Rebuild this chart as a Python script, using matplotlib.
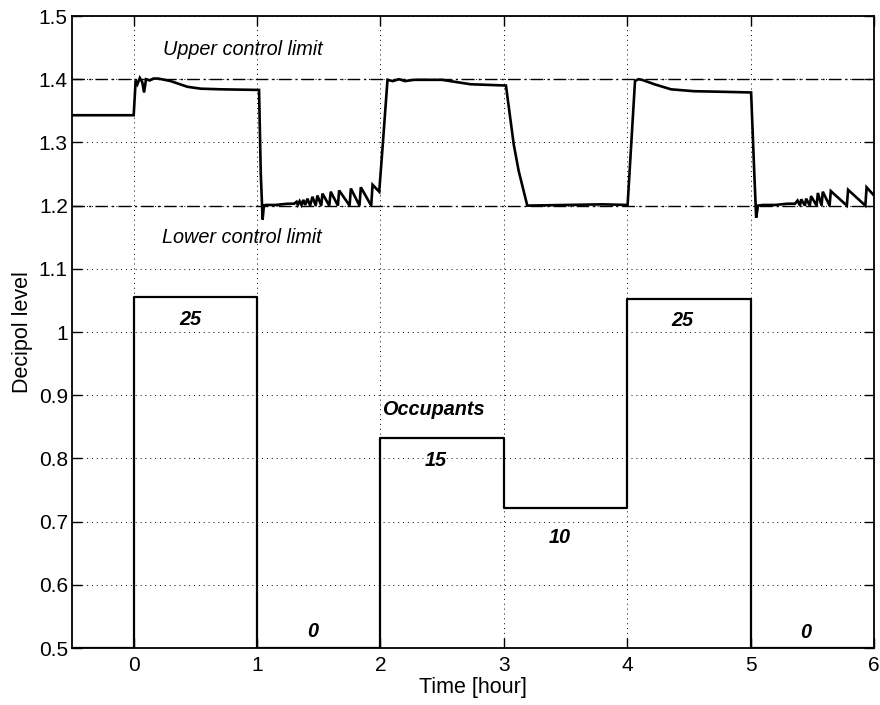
import matplotlib
matplotlib.use("Agg")
import matplotlib.pyplot as plt

plt.rcParams['font.family'] = ['Liberation Sans', 'DejaVu Sans']

# ========== Data ==========
# simulated decipol level (hour, decipol)
decipol_t = [-0.5, 0.0, 0.016, 0.03, 0.05, 0.07, 0.084, 0.10, 0.13, 0.16, 0.20,
             0.30, 0.435, 0.543, 0.706, 1.016,
             1.03, 1.045, 1.055, 1.07, 1.15, 1.25, 1.30,
             1.32, 1.33, 1.345, 1.36, 1.375, 1.39,
             1.408, 1.43, 1.449, 1.475, 1.489, 1.52, 1.530, 1.585, 1.597, 1.655,
             1.665, 1.75, 1.760, 1.83, 1.841, 1.925, 1.936, 1.99,
             2.02, 2.057, 2.10, 2.15, 2.20, 2.27, 2.50, 2.73, 3.017,
             3.08, 3.12, 3.19, 3.50, 3.80, 4.003,
             4.063, 4.09, 4.12, 4.22, 4.355, 4.54, 4.79, 5.004,
             5.03, 5.045, 5.06, 5.10, 5.20, 5.30, 5.36,
             5.38, 5.40, 5.41, 5.44, 5.45, 5.48, 5.49, 5.535, 5.545, 5.575,
             5.585, 5.64, 5.65, 5.78, 5.79, 5.93, 5.94, 6.0]
decipol_v = [1.343, 1.343, 1.398, 1.392, 1.402, 1.395, 1.379, 1.400, 1.398, 1.401, 1.401,
             1.397, 1.388, 1.385, 1.384, 1.383,
             1.25, 1.178, 1.200, 1.201, 1.201, 1.203, 1.203,
             1.206, 1.201, 1.207, 1.201, 1.209, 1.201,
             1.211, 1.200, 1.214, 1.200, 1.216, 1.200, 1.219, 1.200, 1.222, 1.200,
             1.224, 1.200, 1.227, 1.200, 1.229, 1.200, 1.233, 1.222,
             1.30, 1.399, 1.397, 1.400, 1.397, 1.399, 1.399, 1.392, 1.390,
             1.297, 1.255, 1.200, 1.201, 1.202, 1.201,
             1.397, 1.400, 1.399, 1.392, 1.384, 1.381, 1.380, 1.379,
             1.25, 1.181, 1.200, 1.201, 1.201, 1.203, 1.203,
             1.208, 1.200, 1.210, 1.200, 1.211, 1.200, 1.215, 1.200, 1.220, 1.200,
             1.222, 1.200, 1.223, 1.200, 1.225, 1.200, 1.229, 1.216]

# occupancy schedule, drawn as steps
occ_edges = [-0.5, 0, 1, 2, 3, 4, 5, 6]
occ_levels = [0.5, 1.055, 0.5, 0.832, 0.721, 1.053, 0.5]
occ_counts = [0, 25, 0, 15, 10, 25, 0]

upper_limit = 1.4
lower_limit = 1.2

x_ticks = [0, 1, 2, 3, 4, 5, 6]
y_ticks = [0.5, 0.6, 0.7, 0.8, 0.9, 1.0, 1.1, 1.2, 1.3, 1.4, 1.5]
y_tick_labels = ["0.5", "0.6", "0.7", "0.8", "0.9", "1", "1.1", "1.2", "1.3", "1.4", "1.5"]

# ========== Plot ==========
fig = plt.figure(figsize=(8.8, 7.05), dpi=100)
ax = fig.add_axes([72 / 880, 1 - 648 / 705, 802 / 880, 632 / 705])

ax.axhline(upper_limit, color="black", lw=1.0, dashes=(9, 3, 1.5, 3))
ax.axhline(lower_limit, color="black", lw=1.0, dashes=(9, 3, 1.5, 3))

ax.plot(decipol_t, decipol_v, color="black", lw=1.9, solid_joinstyle="miter")
ax.step(occ_edges, occ_levels + [occ_levels[-1]], where="post", color="black", lw=1.6)

ax.set_xlim(-0.5, 6)
ax.set_ylim(0.5, 1.5)
ax.set_xticks(x_ticks)
ax.set_yticks(y_ticks)
ax.set_yticklabels(y_tick_labels)
ax.grid(True, color="black", linestyle=(0, (1, 4)), linewidth=0.7)
ax.tick_params(direction="in", length=7, width=1, top=True, right=True, labelsize=15)
ax.tick_params(axis="x", pad=6)
ax.tick_params(axis="y", pad=3)
for s in ax.spines.values():
    s.set_linewidth(1.3)

ax.set_xlabel("Time [hour]", fontsize=15.5, labelpad=1)
ax.set_ylabel("Decipol level", fontsize=15.5, labelpad=4)

# annotations
note = dict(fontsize=14.3, style="italic", va="center")
ax.text(0.235, 1.447, "Upper control limit", ha="left", **note)
ax.text(0.23, 1.150, "Lower control limit", ha="left", **note)
ax.text(2.43, 0.878, "Occupants", ha="center", weight="bold", **note)
count_pos = [(0.455, 1.019), (1.45, 0.526), (2.45, 0.796), (3.45, 0.675), (4.45, 1.018), (5.45, 0.525)]
for (tx, ty), n in zip(count_pos, occ_counts[1:]):
    ax.text(tx, ty, str(n), ha="center", weight="bold", **note)

fig.savefig("out.png", dpi=100)
